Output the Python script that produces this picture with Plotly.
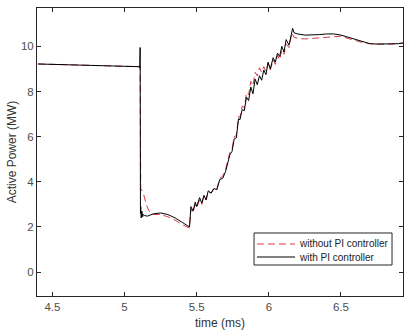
import plotly.graph_objects as go

# with PI controller (black, solid)
t_pi = [4.40, 4.50, 4.60, 4.70, 4.80, 4.90, 5.00, 5.05, 5.10, 5.105, 5.108, 5.110, 5.112, 5.115,
        5.120, 5.125, 5.130, 5.140, 5.160, 5.200, 5.250, 5.300, 5.350, 5.400, 5.450,
        5.460, 5.475, 5.490, 5.500, 5.520, 5.535, 5.550, 5.565, 5.580, 5.600, 5.620, 5.640,
        5.660, 5.680, 5.700, 5.720, 5.730, 5.745, 5.760, 5.775, 5.790, 5.800, 5.815, 5.830,
        5.845, 5.860, 5.875, 5.890, 5.905, 5.920, 5.935, 5.950, 5.965, 5.980, 5.995, 6.010,
        6.030, 6.045, 6.060, 6.075, 6.090, 6.105, 6.120, 6.140, 6.165, 6.175, 6.200, 6.250,
        6.300, 6.350, 6.400, 6.450, 6.500, 6.550, 6.600, 6.650, 6.700, 6.750, 6.800, 6.850,
        6.900, 6.930]
p_pi = [9.22, 9.20, 9.18, 9.17, 9.16, 9.14, 9.12, 9.10, 9.10, 9.05, 9.95, 2.60, 2.90, 2.40,
        2.70, 2.45, 2.55, 2.50, 2.48, 2.58, 2.62, 2.55, 2.40, 2.20, 2.00,
        2.90, 2.70, 3.10, 2.90, 3.30, 3.05, 3.40, 3.20, 3.60, 3.50, 3.70, 3.65,
        4.10, 4.15, 4.45, 4.90, 5.20, 5.35, 5.90, 5.95, 6.80, 6.75, 7.20, 7.15,
        7.75, 7.60, 8.20, 7.90, 8.55, 8.30, 8.70, 8.50, 8.95, 8.75, 9.30, 9.00,
        9.50, 9.30, 9.70, 9.55, 10.00, 9.75, 10.30, 10.05, 10.80, 10.60, 10.55, 10.50,
        10.50, 10.52, 10.55, 10.55, 10.50, 10.40, 10.30, 10.20, 10.12, 10.10, 10.10, 10.10,
        10.12, 10.15]

# without PI controller (red, dashed)
t_nopi = [4.40, 4.50, 4.60, 4.70, 4.80, 4.90, 5.00, 5.05, 5.10, 5.108, 5.112, 5.130, 5.150,
          5.170, 5.200, 5.250, 5.300, 5.350, 5.400, 5.450,
          5.460, 5.475, 5.490, 5.500, 5.520, 5.535, 5.550, 5.565, 5.580, 5.600, 5.620, 5.640,
          5.660, 5.680, 5.700, 5.720, 5.730, 5.745, 5.760, 5.775, 5.790, 5.800, 5.815, 5.830,
          5.845, 5.860, 5.875, 5.890, 5.905, 5.920, 5.935, 5.950, 5.965, 5.980, 5.995, 6.010,
          6.030, 6.045, 6.060, 6.075, 6.090, 6.105, 6.120, 6.140, 6.160, 6.175, 6.200, 6.250,
          6.300, 6.350, 6.400, 6.450, 6.500, 6.550, 6.600, 6.650, 6.700, 6.750, 6.800, 6.850,
          6.900, 6.930]
p_nopi = [9.22, 9.20, 9.18, 9.17, 9.16, 9.14, 9.12, 9.10, 9.10, 9.10, 3.70, 3.50, 3.00,
          2.70, 2.55, 2.55, 2.45, 2.30, 2.10, 1.95,
          2.80, 2.65, 3.00, 2.85, 3.20, 3.00, 3.35, 3.20, 3.55, 3.50, 3.75, 3.70,
          4.15, 4.25, 4.55, 5.00, 5.30, 5.45, 6.00, 6.05, 6.90, 6.85, 7.35, 7.30,
          7.95, 7.85, 8.45, 8.25, 8.85, 8.70, 9.05, 8.85, 9.10, 8.90, 9.25, 8.95,
          9.40, 9.20, 9.60, 9.40, 9.85, 9.65, 10.10, 9.95, 10.60, 10.40, 10.35, 10.33,
          10.35, 10.37, 10.40, 10.42, 10.45, 10.35, 10.25, 10.17, 10.12, 10.10, 10.10, 10.10,
          10.12, 10.15]

x_ticks = [4.5, 5, 5.5, 6, 6.5]
y_ticks = [0, 2, 4, 6, 8, 10]
series_names = ["without PI controller", "with PI controller"]

FONT = "Liberation Sans, Arial, sans-serif"
RED = "rgb(214,60,70)"
DASH = "7px,4px"

fig = go.Figure()
fig.add_trace(go.Scatter(x=t_nopi, y=p_nopi, mode="lines", name=series_names[0],
                         line=dict(color=RED, width=1, dash=DASH), showlegend=False))
fig.add_trace(go.Scatter(x=t_pi, y=p_pi, mode="lines", name=series_names[1],
                         line=dict(color="black", width=1), showlegend=False))

axis_common = dict(showgrid=False, zeroline=False, showline=True, linecolor="#262626",
                   linewidth=1, mirror="ticks", ticks="inside", ticklen=4, tickcolor="#262626",
                   tickfont=dict(family=FONT, size=11.5, color="#4d4d4d"))

fig.update_xaxes(range=[4.393, 6.93], tickvals=x_ticks, ticktext=[str(v) for v in x_ticks],
                 title=dict(text="time (ms)", font=dict(family=FONT, size=12, color="#333"), standoff=6),
                 **axis_common)
fig.update_yaxes(range=[-1.06, 11.7], tickvals=y_ticks, ticktext=[str(v) for v in y_ticks],
                 title=dict(text="Active Power (MW)", font=dict(family=FONT, size=12, color="#333"), standoff=1),
                 **axis_common)

# manual compact legend (MATLAB style)
shapes = [
    dict(type="rect", xref="paper", yref="paper", x0=0.593, x1=0.970, y0=0.1076, y1=0.2188,
         line=dict(color="#262626", width=1), fillcolor="white", layer="above"),
    dict(type="line", xref="paper", yref="paper", x0=0.601, x1=0.705, y0=0.1806, y1=0.1806,
         line=dict(color=RED, width=1, dash=DASH), layer="above"),
    dict(type="line", xref="paper", yref="paper", x0=0.601, x1=0.705, y0=0.1354, y1=0.1354,
         line=dict(color="black", width=1), layer="above"),
]
annotations = [
    dict(xref="paper", yref="paper", x=0.711, y=0.1806, text=series_names[0], showarrow=False,
         xanchor="left", yanchor="middle", font=dict(family=FONT, size=10, color="#222")),
    dict(xref="paper", yref="paper", x=0.711, y=0.1354, text=series_names[1], showarrow=False,
         xanchor="left", yanchor="middle", font=dict(family=FONT, size=10, color="#222")),
]

fig.update_layout(
    width=406, height=334,
    margin=dict(l=37, r=3, t=8, b=38),
    paper_bgcolor="white", plot_bgcolor="white",
    font=dict(family=FONT),
    showlegend=False,
    shapes=shapes, annotations=annotations,
)

fig.write_html("out.html")
